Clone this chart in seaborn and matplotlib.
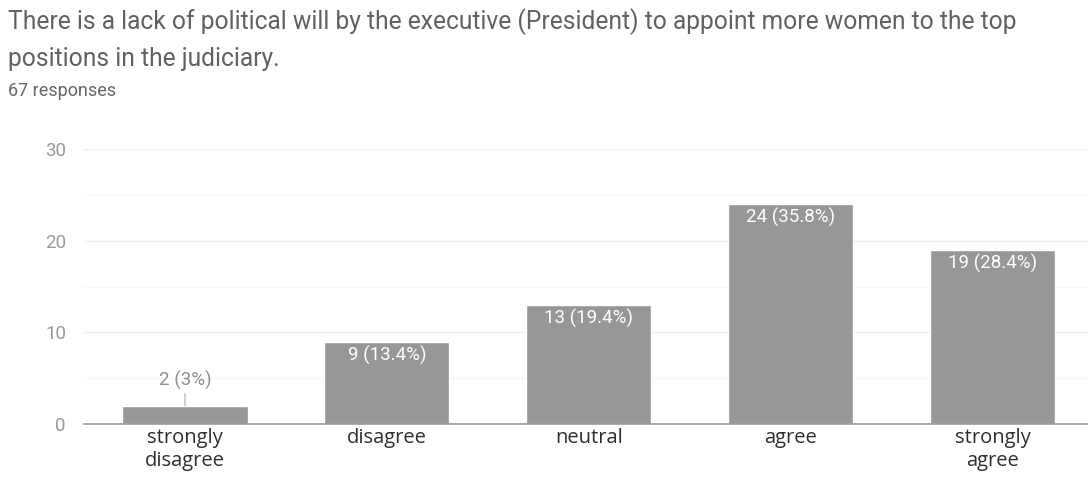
import matplotlib
matplotlib.use("Agg")
import matplotlib.pyplot as plt
import seaborn as sns
import pandas as pd

# survey answers
categories = ["strongly\ndisagree", "disagree", "neutral", "agree", "strongly\nagree"]
counts = [2, 9, 13, 24, 19]
percents = ["3%", "13.4%", "19.4%", "35.8%", "28.4%"]
y_ticks = [0, 10, 20, 30]

title_line1 = "There is a lack of political will by the executive (President) to appoint more women to the top"
title_line2 = "positions in the judiciary."
subtitle = "67 responses"

df = pd.DataFrame({"answer": categories, "count": counts, "pct": percents})

sns.set_theme(style="white")
plt.rcParams["font.family"] = ["Roboto", "DejaVu Sans"]

fig = plt.figure(figsize=(10.88, 4.82), dpi=100)
ax = fig.add_axes([84 / 1088, 58 / 482, (1093.6 - 84) / 1088, 275 / 482])

sns.barplot(data=df, x="answer", y="count", color="#979797", width=0.62,
            saturation=1, ax=ax, zorder=3)

ax.set_xlim(-0.5, 4.5)
ax.set_ylim(0, 30)
ax.set_yticks(y_ticks)
ax.set_yticks([5, 15, 25], minor=True)
ax.grid(axis="y", which="major", color="#eeeeee", linewidth=1, zorder=0)
ax.grid(axis="y", which="minor", color="#f7f7f7", linewidth=1, zorder=0)
ax.set_xlabel("")
ax.set_ylabel("")
for s in ["top", "right", "left"]:
    ax.spines[s].set_visible(False)
ax.spines["bottom"].set_color("#9a9a9a")
ax.spines["bottom"].set_linewidth(1.2)
ax.spines["bottom"].set_zorder(4)

ax.tick_params(axis="y", length=0, pad=13, labelsize=13.5, labelcolor="#9a9a9a")
ax.tick_params(axis="x", length=0, pad=3, labelsize=14.5, labelcolor="#2e2e2e")
for t in ax.get_xticklabels():
    t.set_family(["Open Sans", "DejaVu Sans"])
    t.set_linespacing(1.2)

# value labels
for i, (c, p) in enumerate(zip(counts, percents)):
    txt = f"{c} ({p})"
    if c < 5:
        ax.annotate(txt, xy=(i, c), xytext=(0, 11), textcoords="offset points",
                    ha="center", va="bottom", fontsize=13.5, color="#8f8f8f",
                    arrowprops=dict(arrowstyle="-", color="#bdbdbd", lw=1,
                                    shrinkA=0, shrinkB=0), zorder=5)
    else:
        ax.annotate(txt, xy=(i, c), xytext=(0, -3), textcoords="offset points",
                    ha="center", va="top", fontsize=13.5, color="white", zorder=5)

fig.text(8 / 1088, 1 - 22 / 482, title_line1, fontsize=17.7, color="#616161", va="center")
fig.text(8 / 1088, 1 - 59 / 482, title_line2, fontsize=17.7, color="#616161", va="center")
fig.text(8 / 1088, 1 - 91 / 482, subtitle, fontsize=13, color="#666666", va="center")

fig.savefig("out.png", dpi=100)
